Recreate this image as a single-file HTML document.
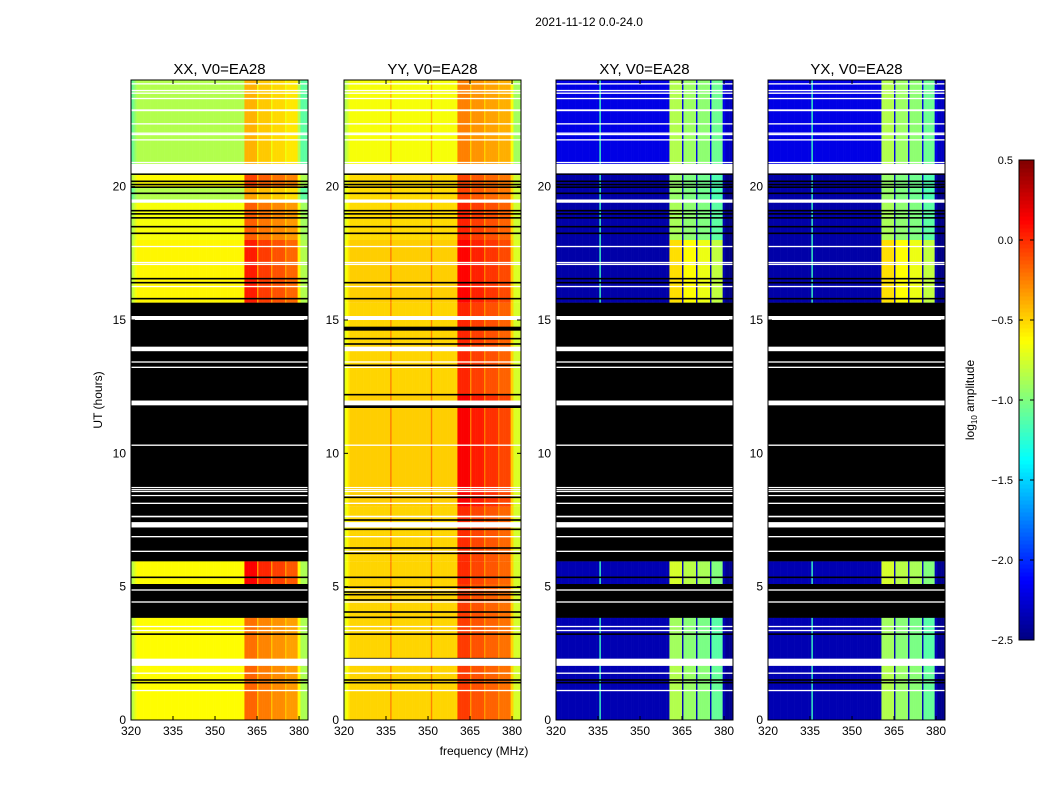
<!DOCTYPE html>
<html><head><meta charset="utf-8">
<style>
body{margin:0;background:#fff;}
svg text{font-family:"Liberation Sans","DejaVu Sans",sans-serif;fill:#000;}
</style></head>
<body>
<svg id="fig" width="1050" height="800" xmlns="http://www.w3.org/2000/svg">
<rect x="0" y="0" width="1050" height="800" fill="#fff"/>
<text x="589" y="26" font-size="12" text-anchor="middle">2021-11-12 0.0-24.0</text>
<text x="484" y="755" font-size="12" text-anchor="middle">frequency (MHz)</text>
<text transform="translate(102,400) rotate(-90)" font-size="12" text-anchor="middle">UT (hours)</text>
<text transform="translate(974,400) rotate(-90)" font-size="12" text-anchor="middle">log<tspan font-size="8" dy="3">10</tspan><tspan dy="-3"> amplitude</tspan></text>
<g id="panels"></g>
<g id="cbar"></g>
</svg>
<script>
// ---- data arrays ----
const panelTitles = ["XX, V0=EA28","YY, V0=EA28","XY, V0=EA28","YX, V0=EA28"];
const xTicks = [320,335,350,365,380];
const yTicks = [0,5,10,15,20];
const cbTicks = [-2.5,-2.0,-1.5,-1.0,-0.5,0.0,0.5];
const cbLabels = ["\u22122.5","\u22122.0","\u22121.5","\u22121.0","\u22120.5","0.0","0.5"];
const subbands = [[360.3,364.8],[365.3,369.8],[370.3,374.8],[375.3,379.5]];
const parSubMult = [1.0,0.85,0.75,0.65];
const crossSubMult = [1.0,0.95,0.92,0.85];
// time blocks: start, end (hours)
const blockStart = [0,2.05,3.83,5.1,5.95,8.0,12.2,15.65,18.0,19.4,20.0,20.5];
const blockEnd   = [2.05,3.83,5.1,5.95,8.0,12.2,15.65,18.0,19.4,20.0,20.5,24];
const xxBase   = [-0.62,-0.62,-0.62,-0.62,-0.62,-0.62,-0.62,-0.6,-0.65,-0.85,-0.62,-0.85];
const xxBand   = [0.45,0.42,0.45,0.75,0.5,0.5,0.5,0.65,0.5,0.5,0.55,0.45];
const yyBase   = [-0.5,-0.5,-0.5,-0.5,-0.5,-0.48,-0.5,-0.48,-0.52,-0.52,-0.52,-0.65];
const yyBand   = [0.45,0.45,0.45,0.5,0.5,0.62,0.52,0.6,0.55,0.45,0.45,0.4];
const crBase   = [-2.35,-2.35,-2.35,-2.35,-2.35,-2.35,-2.35,-2.38,-2.38,-2.38,-2.38,-2.2];
const crBand   = [1.5,1.45,1.45,1.6,1.4,1.4,1.4,1.85,1.5,1.45,1.45,1.35];
// flagged (black) regions
const flagStartX = [3.83,5.95];
const flagEndX   = [5.1,15.65];
const flagStartY = [14.6,11.7];
const flagEndY   = [14.75,11.85];
const blackLinesX = [20.47,20.2,20.08,19.98,19.75,19.1,18.98,18.83,18.5,18.25,16.55,16.4,15.8,5.35,3.22,1.5,1.4];
const blackLinesY = [20.47,20.2,20.08,19.98,19.75,19.1,18.98,18.83,18.5,18.25,16.4,15.8,14.3,14.1,13.3,12.2,8.35,7.5,7.15,6.45,6.25,5.35,4.98,4.8,4.7,4.5,4.05,3.85,3.22,2.3,1.5,1.4];
// missing data (white) gaps
const gapStart = [23.83,23.58,23.48,23.28,22.83,22.33,21.98,21.93,21.73,20.88,20.5,19.4,17.73,17.13,17.06,16.23,15.0,13.83,13.4,13.2,11.8,10.28,8.7,8.62,8.55,8.4,8.1,7.6,7.22,6.85,6.3,4.85,4.4,3.48,3.33,2.03,1.73,1.08];
const gapEnd   = [23.88,23.63,23.53,23.33,22.9,22.38,22.03,21.98,21.78,20.93,20.85,19.52,17.78,17.18,17.11,16.28,15.15,14.0,13.45,13.25,11.98,10.33,8.74,8.66,8.59,8.44,8.15,7.66,7.42,6.9,6.35,4.9,4.45,3.53,3.38,2.3,1.78,1.13];

// ---- layout ----
const panelX = [131,344,556,768];
const PW = 177, PT = 80, PB = 720;
const fMin = 320, fMax = 383.2;
function xs(p,f){return panelX[p] + (f-fMin)/(fMax-fMin)*PW;}
function ys(t){return PB - t/24*(PB-PT);}
function jet(v){
  let x=(v+2.5)/3; x=Math.max(0,Math.min(1,x));
  const c=a=>Math.round(255*Math.max(0,Math.min(1,a)));
  return `rgb(${c(1.5-Math.abs(4*x-3))},${c(1.5-Math.abs(4*x-2))},${c(1.5-Math.abs(4*x-1))})`;
}
const NS="http://www.w3.org/2000/svg";
function mk(tag,attrs,parent){const e=document.createElementNS(NS,tag);for(const k in attrs)e.setAttribute(k,attrs[k]);parent.appendChild(e);return e;}
const chW = 0.5;
function subIndex(f){for(let i=0;i<subbands.length;i++){if(f>=subbands[i][0]&&f<subbands[i][1])return i;}return -1;}
function value(p,b,f){
  const si=subIndex(f);
  if(p<2){
    const base = p===0?xxBase[b]:yyBase[b];
    const band = p===0?xxBand[b]:yyBand[b];
    let v=base;
    if(f<322) v-= (322-f)*0.12;
    if(f>380) v-= 0.25;
    if(si>=0) v+= band*parSubMult[si];
    else if(f>=360.3&&f<379.5) v+= band*0.4;
    if(p===1 && ((f>=336.5&&f<337)||(f>=351&&f<351.5))) v+=0.25;
    return v;
  } else {
    let v=crBase[b];
    if(f>380) v-=0.1;
    if(si>=0) v+= crBand[b]*crossSubMult[si];
    if(f>=335.5&&f<336) v=-1.2;
    return v;
  }
}
const G=document.getElementById('panels');
for(let p=0;p<4;p++){
  const g=mk('g',{},G);
  
  
  for(let b=0;b<blockStart.length;b++){
    const y0=ys(blockEnd[b]), y1=ys(blockStart[b]);
    for(let f=fMin; f<fMax; f+=chW){
      const x0=xs(p,f), x1=xs(p,Math.min(f+chW,fMax));
      const r=mk('rect',{x:x0.toFixed(2),y:y0.toFixed(2),width:(x1-x0+0.3).toFixed(2),height:(y1-y0).toFixed(2),fill:jet(value(p,b,f))},g);
      
      
    }
  }
  const fs = p===1?flagStartY:flagStartX, fe = p===1?flagEndY:flagEndX;
  for(let i=0;i<fs.length;i++){
    const r=mk('rect',{x:panelX[p],y:ys(fe[i]),width:PW,height:ys(fs[i])-ys(fe[i]),fill:'#000'},g);
    
    
  }
  const bl = p===1?blackLinesY:blackLinesX;
  for(let i=0;i<bl.length;i++){
    const r=mk('rect',{x:panelX[p],y:ys(bl[i])-0.8,width:PW,height:1.6,fill:'#000'},g);
    
    
  }
  for(let i=0;i<gapStart.length;i++){
    const h=Math.max(1.2,ys(gapStart[i])-ys(gapEnd[i]));
    const r=mk('rect',{x:panelX[p],y:ys(gapEnd[i]),width:PW,height:h,fill:'#fff'},g);
    
    
  }
  const fr=mk('rect',{x:panelX[p],y:PT,width:PW,height:PB-PT,fill:'none',stroke:'#000','stroke-width':1},g);
  
  
  const tt=mk('text',{x:panelX[p]+PW/2,y:74,'font-size':15,'text-anchor':'middle'},g);
  tt.textContent=panelTitles[p];
  
  
  for(const v of xTicks){
    const x=xs(p,v);
    mk('line',{x1:x,x2:x,y1:PB,y2:PB-4,stroke:'#000'},g);
    mk('line',{x1:x,x2:x,y1:PT,y2:PT+4,stroke:'#000'},g);
    const t=mk('text',{x:x,y:PB+15,'font-size':12,'text-anchor':'middle'},g);
    t.textContent=v;
    
    
  }
  for(const v of yTicks){
    const y=ys(v);
    mk('line',{x1:panelX[p],x2:panelX[p]+4,y1:y,y2:y,stroke:'#000'},g);
    mk('line',{x1:panelX[p]+PW,x2:panelX[p]+PW-4,y1:y,y2:y,stroke:'#000'},g);
    const t=mk('text',{x:panelX[p]-5,y:y+4,'font-size':12,'text-anchor':'end'},g);
    t.textContent=v;
    
    
  }
}
// colorbar
const C=document.getElementById('cbar');


const cbX=1019, cbW=15, cbT=160, cbB=640;
for(let i=0;i<120;i++){
  const v=-2.5+3*(i+0.5)/120;
  const y=cbB-(i+1)*(cbB-cbT)/120;
  mk('rect',{x:cbX,y:y.toFixed(2),width:cbW,height:((cbB-cbT)/120+0.5).toFixed(2),fill:jet(v)},C);
}
mk('rect',{x:cbX,y:cbT,width:cbW,height:cbB-cbT,fill:'none',stroke:'#000'},C);
for(let i=0;i<cbTicks.length;i++){
  const y=cbB-(cbTicks[i]+2.5)/3*(cbB-cbT);
  mk('line',{x1:cbX+cbW,x2:cbX+cbW-4,y1:y,y2:y,stroke:'#000'},C);
  mk('line',{x1:cbX,x2:cbX+4,y1:y,y2:y,stroke:'#000'},C);
  const t=mk('text',{x:cbX-6,y:y+4,'font-size':11,'text-anchor':'end'},C);
  t.textContent=cbLabels[i];
  
  
}
</script>
</body></html>
